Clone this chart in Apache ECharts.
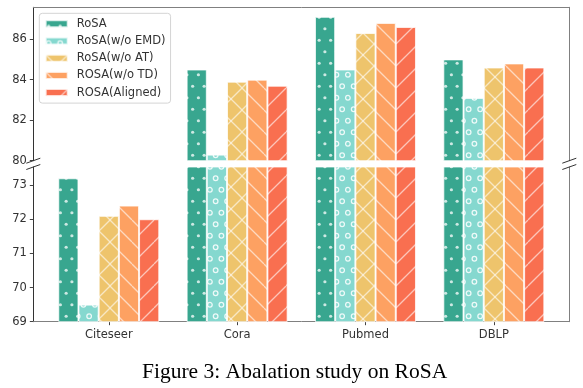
<!DOCTYPE html>
<html><head><meta charset="utf-8">
<script src="https://cdn.jsdelivr.net/npm/echarts@6/dist/echarts.min.js"></script>
<style>html,body{margin:0;padding:0;background:#fff}#c{width:583px;height:388px}</style>
</head><body><div id="c"></div>
<script>
// ---- data ----
const categories = ['Citeseer', 'Cora', 'Pubmed', 'DBLP'];
const seriesNames = ['RoSA', 'RoSA(w/o EMD)', 'RoSA(w/o AT)', 'ROSA(w/o TD)', 'ROSA(Aligned)'];
const rosa    = [73.2, 84.5, 87.1, 85.0];
const woEMD   = [69.5, 80.3, 84.5, 83.1];
const woAT    = [72.1, 83.9, 86.3, 84.6];
const woTD    = [72.4, 84.0, 86.8, 84.8];
const aligned = [72.0, 83.7, 86.6, 84.6];
const topTicks = [80, 82, 84, 86];
const bottomTicks = [69, 70, 71, 72, 73];
const caption = 'Figure 3: Abalation study on RoSA';

// ---- styles ----
const colors = ['#38a68f', '#85d8cf', '#eec46c', '#fda162', '#f96f50'];
const kinds = ['dot', 'ring', 'x', 'back', 'fwd'];
const FONT = 'DejaVu Sans';

function hatch(bg, kind) {
  const S = (kind === 'dot' || kind === 'ring') ? 23 : 22;
  const c = document.createElement('canvas');
  c.width = S; c.height = S;
  const g = c.getContext('2d');
  g.fillStyle = bg; g.fillRect(0, 0, S, S);
  if (kind === 'dot' || kind === 'ring') {
    const pts = [[2.9, 5.75], [14.4, 5.75], [8.65, 17.25], [20.15, 17.25]];
    pts.forEach(p => {
      g.beginPath();
      if (kind === 'dot') {
        g.arc(p[0], p[1], 1.6, 0, Math.PI * 2);
        g.fillStyle = 'rgba(255,255,255,0.75)'; g.fill();
      } else {
        g.arc(p[0], p[1], 2.3, 0, Math.PI * 2);
        g.strokeStyle = 'rgba(255,255,255,0.85)'; g.lineWidth = 1.3; g.stroke();
      }
    });
  } else {
    g.strokeStyle = 'rgba(255,255,255,0.6)'; g.lineWidth = 1.3;
    [-S, 0, S].forEach(o => {
      if (kind === 'fwd' || kind === 'x') { g.beginPath(); g.moveTo(o, S); g.lineTo(o + S, 0); g.stroke(); }
      if (kind === 'back' || kind === 'x') { g.beginPath(); g.moveTo(o, 0); g.lineTo(o + S, S); g.stroke(); }
    });
  }
  return { image: c, repeat: 'repeat' };
}

const values = [rosa, woEMD, woAT, woTD, aligned];
const XMIN = -0.588, XMAX = 3.588;
const TOPMAX = 87.57, BOTMAX = 73.53;
const GL = 33.3, GR = 583 - 569.3;
const T0 = 7.3, H0 = 153.4, T1 = 167, B1 = 388 - 321.7;

const series = [];
seriesNames.forEach((n, k) => {
  const pat = hatch(colors[k], kinds[k]);
  const data = values[k].map((v, i) => [i, v]);
  const base = {
    type: 'bar', name: n, data: data, barWidth: 20.2, barGap: '0%', clip: true,
    itemStyle: { color: pat, borderColor: 'rgba(255,255,255,0.75)', borderWidth: 1 },
    emphasis: { disabled: true }
  };
  series.push(Object.assign({}, base, { xAxisIndex: 0, yAxisIndex: 0 }));
  series.push(Object.assign({}, base, { xAxisIndex: 1, yAxisIndex: 2 }));
});

const labelStyle = { fontFamily: FONT, fontSize: 11.5, color: '#333' };
const tickStyle = { color: '#444', width: 1 };

function breakMarks() {
  const els = [];
  [GL, 583 - GR].forEach(x => {
    [T0 + H0, T1].forEach(y => {
      els.push({ type: 'line', shape: { x1: x - 7, y1: y + 2.5, x2: x + 7, y2: y - 2.5 },
        style: { stroke: '#333', lineWidth: 1 }, z: 100 });
    });
  });
  return els;
}

const chart = echarts.init(document.getElementById('c'), null, { renderer: 'canvas' });
chart.setOption({
  animation: false,
  backgroundColor: '#fff',
  title: { text: caption, left: 142, top: 361, padding: 0,
    textStyle: { fontFamily: 'Liberation Serif', fontSize: 21.5, fontWeight: 'normal', color: '#000' } },
  legend: {
    orient: 'vertical', left: 39.3, top: 13.3, data: seriesNames, icon: 'rect',
    itemWidth: 22, itemHeight: 7, itemGap: 5.2, padding: [4.5, 5, 4.5, 5.4],
    backgroundColor: '#fff', borderColor: '#d4d4d4', borderWidth: 1, borderRadius: 3,
    textStyle: { fontFamily: FONT, fontSize: 11.5, color: '#333', padding: [0, 0, 0, 4] },
    selectedMode: false
  },
  grid: [
    { left: GL, right: GR, top: T0, height: H0 },
    { left: GL, right: GR, top: T1, bottom: B1 }
  ],
  xAxis: [
    { gridIndex: 0, type: 'value', position: 'top', min: XMIN, max: XMAX,
      axisLine: { show: true, onZero: false, lineStyle: { color: '#808080' } },
      axisTick: { show: false }, axisLabel: { show: false }, splitLine: { show: false } },
    { gridIndex: 1, type: 'value', position: 'bottom', min: XMIN, max: XMAX,
      axisLine: { show: true, onZero: false, lineStyle: { color: '#808080' } },
      axisTick: { show: true, customValues: [0, 1, 2, 3], length: 3.5, lineStyle: tickStyle },
      axisLabel: Object.assign({ customValues: [0, 1, 2, 3], margin: 7,
        formatter: v => categories[Math.round(v)] }, labelStyle),
      splitLine: { show: false } }
  ],
  yAxis: [
    { gridIndex: 0, type: 'value', position: 'left', min: 80, max: TOPMAX,
      axisLine: { show: true, onZero: false, lineStyle: { color: '#333' } },
      axisTick: { show: true, customValues: topTicks, length: 3.5, lineStyle: tickStyle },
      axisLabel: Object.assign({ customValues: topTicks, margin: 6.5 }, labelStyle),
      splitLine: { show: false } },
    { gridIndex: 0, type: 'value', position: 'right', min: 80, max: TOPMAX,
      axisLine: { show: true, onZero: false, lineStyle: { color: '#808080' } },
      axisTick: { show: false }, axisLabel: { show: false }, splitLine: { show: false } },
    { gridIndex: 1, type: 'value', position: 'left', min: 69, max: BOTMAX,
      axisLine: { show: true, onZero: false, lineStyle: { color: '#333' } },
      axisTick: { show: true, customValues: bottomTicks, length: 3.5, lineStyle: tickStyle },
      axisLabel: Object.assign({ customValues: bottomTicks, margin: 6.5 }, labelStyle),
      splitLine: { show: false } },
    { gridIndex: 1, type: 'value', position: 'right', min: 69, max: BOTMAX,
      axisLine: { show: true, onZero: false, lineStyle: { color: '#808080' } },
      axisTick: { show: false }, axisLabel: { show: false }, splitLine: { show: false } }
  ],
  series: series,
  graphic: breakMarks()
});
</script></body></html>
